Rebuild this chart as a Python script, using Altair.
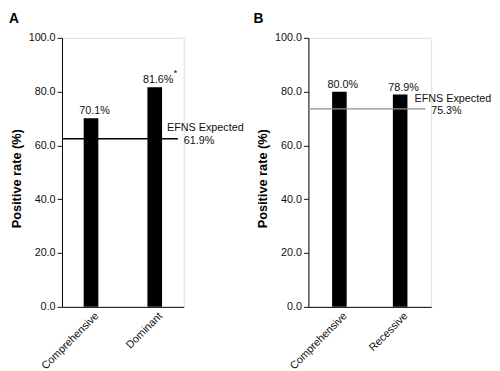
import altair as alt
import pandas as pd

FONT = "Liberation Sans"

panel_letters = ["A", "B"]
categories = [["Comprehensive", "Dominant"], ["Comprehensive", "Recessive"]]
rates = [[70.1, 81.6], [80.0, 78.9]]
rate_labels = [["70.1%", "81.6%"], ["80.0%", "78.9%"]]
significance = [["", "*"], ["", ""]]
expected_line = [62.5, 73.6]
expected_labels = ["61.9%", "75.3%"]
expected_name = "EFNS Expected"
line_colors = ["#000000", "#8c8c8c"]
line_widths = [1.5, 1.2]
y_ticks = [0, 20, 40, 60, 80, 100]


def panel(i, width, pad_inner, pad_outer, letter_x):
    df = pd.DataFrame({
        "cat": categories[i],
        "rate": rates[i],
        "label": rate_labels[i],
        "sig": significance[i],
    })
    ref = pd.DataFrame({
        "rate": [expected_line[i]],
        "name": [expected_name],
        "lab": [expected_labels[i]],
    })
    letter = pd.DataFrame({"letter": [panel_letters[i]]})

    x = alt.X(
        "cat:N",
        sort=categories[i],
        scale=alt.Scale(paddingInner=pad_inner, paddingOuter=pad_outer),
        axis=alt.Axis(
            title=None, labelAngle=-45, ticks=False, domainColor="black",
            labelFont=FONT, labelFontSize=11, labelColor="#111",
            labelPadding=3, labelOffset=2,
        ),
    )
    y = alt.Y(
        "rate:Q",
        scale=alt.Scale(domain=[0, 100], nice=False),
        axis=alt.Axis(
            title="Positive rate (%)", values=y_ticks, format=".1f",
            tickSize=5, tickColor="#111", domainColor="black",
            labelFont=FONT, labelFontSize=11, labelColor="#111",
            titleFont=FONT, titleFontSize=13, titleFontWeight="bold",
            titleColor="black", titlePadding=5, grid=False, titleY=143,
        ),
    )

    base = alt.Chart(df)
    bars = base.mark_bar(color="black").encode(x=x, y=y)
    labels = base.mark_text(
        dx=3.5, dy=-4, baseline="alphabetic", font=FONT, fontSize=11, color="#111"
    ).encode(x=x, y="rate:Q", text="label:N")
    sig = base.mark_text(
        dx=21, dy=-12, baseline="alphabetic", font=FONT, fontSize=10, color="#111"
    ).encode(x=x, y="rate:Q", text="sig:N")

    rbase = alt.Chart(ref)
    rule = rbase.mark_rule(color=line_colors[i], strokeWidth=line_widths[i]).encode(
        y="rate:Q", x=alt.value(0), x2=alt.value(width - 6)
    )
    name = rbase.mark_text(
        align="left", baseline="alphabetic", dy=-7.5, font=FONT, fontSize=11, color="#111"
    ).encode(y="rate:Q", x=alt.value(width - 17), text="name:N")
    lab = rbase.mark_text(
        align="left", baseline="alphabetic", dy=5, font=FONT, fontSize=11, color="#111"
    ).encode(y="rate:Q", x=alt.value(width), text="lab:N")

    let = alt.Chart(letter).mark_text(
        align="left", baseline="top", font=FONT, fontSize=14,
        fontWeight="bold", color="black"
    ).encode(x=alt.value(letter_x), y=alt.value(-26), text="letter:N")

    return alt.layer(bars, labels, sig, rule, name, lab, let).properties(
        width=width, height=274
    )


pa = panel(0, 124, 0.77, 0.34, -54)
pb = panel(1, 125, 0.76, 0.39, -56)

chart = alt.hconcat(pa, pb, spacing=127, bounds="flush").properties(
    padding={"left": 0, "top": 0, "right": 0, "bottom": 0}
).configure_view(stroke=None).configure(background="white")

chart.save("out.html", embed_options={"renderer": "svg", "actions": False})
